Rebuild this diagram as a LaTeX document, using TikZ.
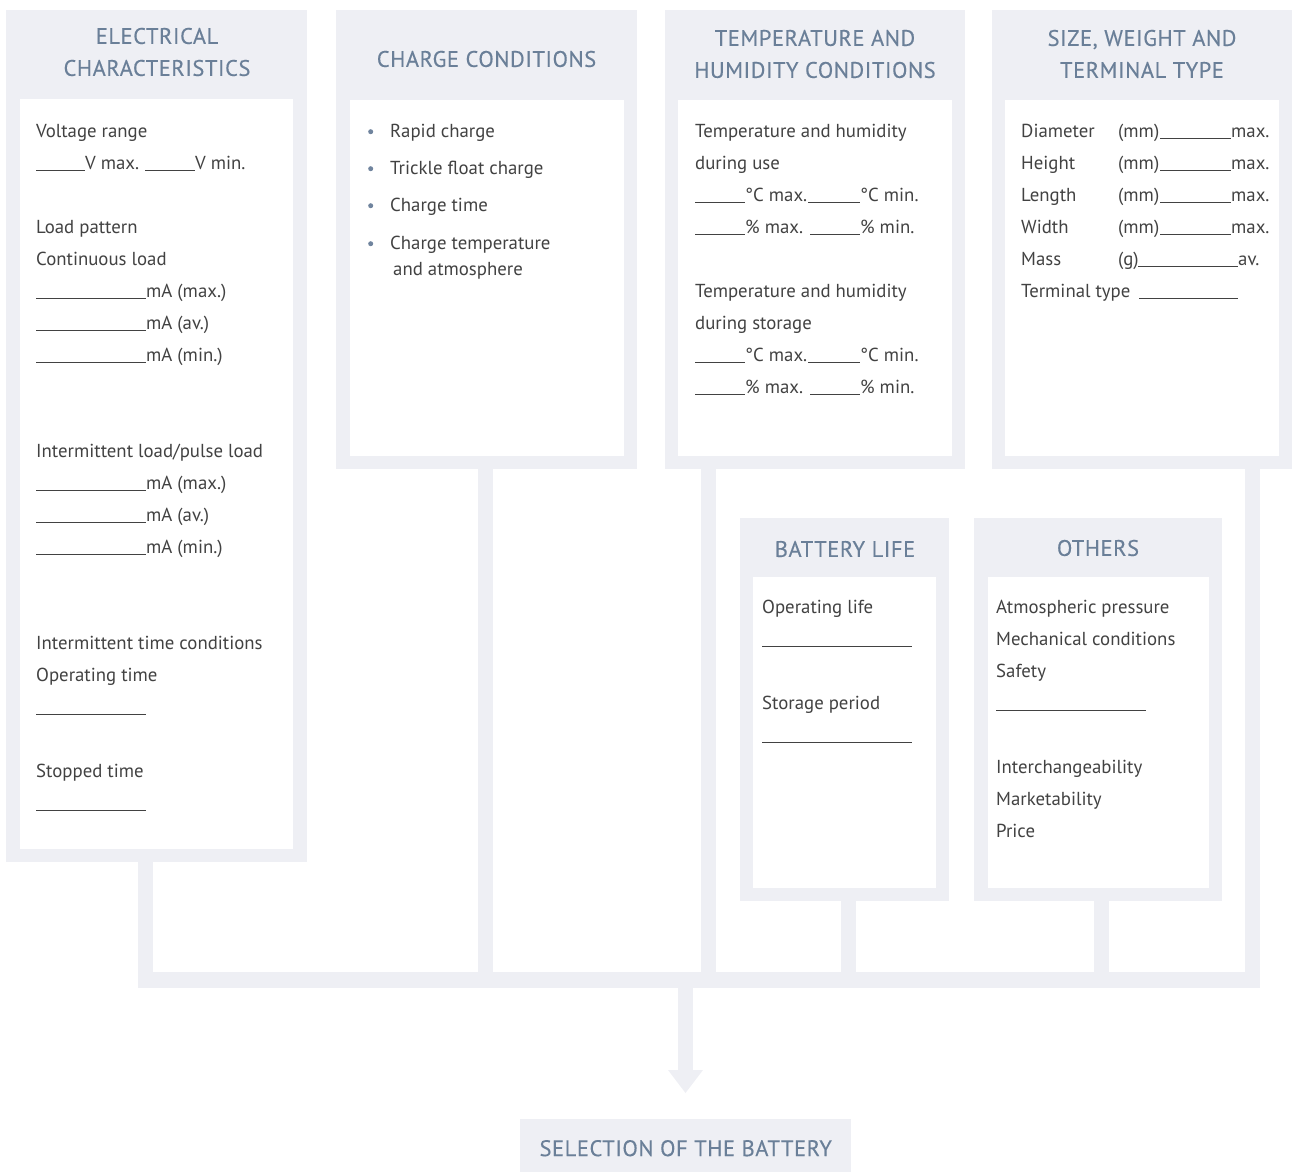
\documentclass[tikz,border=0pt]{standalone}
\usepackage{fontspec}
\setmainfont{PT Sans}
\newfontfamily\headfont[LetterSpace=2.5, FakeBold=0.3]{PT Sans}
\usetikzlibrary{arrows.meta}
\definecolor{panelgray}{RGB}{238,239,244}
\definecolor{headblue}{RGB}{106,127,152}
\definecolor{bodygray}{RGB}{66,66,66}
\definecolor{dotblue}{RGB}{112,132,158}
\newcommand{\blank}[1]{\rule[-2pt]{#1}{0.9pt}}
\tikzset{
    panel/.style={fill=panelgray, inner sep=0pt, anchor=north west},
    sheet/.style={fill=white, inner sep=0pt, anchor=north west},
    heading/.style={text=headblue, font=\headfont\fontsize{22.5}{32}\selectfont, align=center, inner sep=0pt},
    entry/.style={text=bodygray, font=\fontsize{18.8}{22}\selectfont, anchor=base west, inner sep=0pt},
    dot/.style={circle, fill=dotblue, inner sep=0pt, minimum size=5pt},
    link/.style={draw=panelgray, line width=15.5pt},
}

\begin{document}
\begin{tikzpicture}[x=1pt, y=-1pt]
		\useasboundingbox (0,0) rectangle (1292,1171);
		% panels
		\node[panel, minimum width=301pt, minimum height=852pt] (elec) at (6,10) {};
		\node[panel, minimum width=301pt, minimum height=459pt] (charge) at (336,10) {};
		\node[panel, minimum width=300pt, minimum height=459pt] (climate) at (665,10) {};
		\node[panel, minimum width=300pt, minimum height=459pt] (size) at (992,10) {};
		\node[panel, minimum width=209pt, minimum height=383pt] (life) at (740,518) {};
		\node[panel, minimum width=248pt, minimum height=383pt] (others) at (974,518) {};
		\node[sheet, minimum width=273pt, minimum height=750pt] (elec-sheet) at (20,99) {};
		\node[sheet, minimum width=274pt, minimum height=356pt] (charge-sheet) at (350,100) {};
		\node[sheet, minimum width=274pt, minimum height=356pt] (climate-sheet) at (678,100) {};
		\node[sheet, minimum width=274pt, minimum height=356pt] (size-sheet) at (1005,100) {};
		\node[sheet, minimum width=183pt, minimum height=311pt] (life-sheet) at (753,577) {};
		\node[sheet, minimum width=221pt, minimum height=311pt] (others-sheet) at (988,577) {};
		\node[panel, heading, anchor=north west, minimum width=331pt, minimum height=58pt] (select) at (520,1119) {SELECTION OF THE BATTERY};
		% titles
		\node[heading] (elec-title) at (157,52) {ELECTRICAL\\CHARACTERISTICS};
		\node[heading] (charge-title) at (486.5,59) {CHARGE CONDITIONS};
		\node[heading] (climate-title) at (815,54) {TEMPERATURE AND\\HUMIDITY CONDITIONS};
		\node[heading] (size-title) at (1142,54) {SIZE, WEIGHT AND\\TERMINAL TYPE};
		\node[heading] (life-title) at (845,549) {BATTERY LIFE};
		\node[heading] (others-title) at (1098,548) {OTHERS};
		% connectors
		\coordinate (bus-west) at (145.5,980);
		\coordinate (bus-east) at (1252.5,980);
		\coordinate (tap-charge) at (485.5,980);
		\coordinate (tap-climate) at (708.5,980);
		\coordinate (tap-life) at (848.5,980);
		\coordinate (tap-others) at (1101.5,980);
		\coordinate (tap-select) at (685.5,980);
		\draw[link] (elec.south -| bus-west) -- (bus-west) -- (bus-east) -- (size.south -| bus-east);
		\foreach \from/\tap in {charge/tap-charge, climate/tap-climate, life/tap-life, others/tap-others}{
			\draw[link] (\from.south -| \tap) -- (\tap);
		}
		\draw[link, -{Triangle[width=35pt, length=23pt, line width=0pt]}, shorten >=26pt] (tap-select) -- (tap-select |- select.north);
		% electrical characteristics
		\foreach \y/\txt [count=\i] in {137/Voltage range, 169/{\blank{49pt}\makebox[60pt][l]{V max.}\blank{50pt}V min.},
			233/Load pattern, 265/Continuous load, 297/{\blank{110pt}mA (max.)}, 329/{\blank{110pt}mA (av.)}, 361/{\blank{110pt}mA (min.)},
			457/{Intermittent load/pulse load}, 489/{\blank{110pt}mA (max.)}, 521/{\blank{110pt}mA (av.)}, 553/{\blank{110pt}mA (min.)},
			649/Intermittent time conditions, 681/Operating time, 713/{\blank{110pt}}, 777/Stopped time, 809/{\blank{110pt}}}{
			\node[entry] (elec-line-\i) at (36,\y) {\txt};
		}
		% charge conditions
		\foreach \y/\txt [count=\i] in {137/Rapid charge, 174/Trickle float charge, 211/Charge time, 249/Charge temperature}{
			\node[dot] (charge-dot-\i) at (370.7,\y-5.3) {};
			\node[entry] (charge-line-\i) at (390,\y) {\txt};
		}
		\node[entry] (charge-line-5) at (393,275) {and atmosphere};
		% temperature and humidity
		\foreach \y/\txt [count=\i] in {137/Temperature and humidity, 169/during use,
			201/{\blank{50pt}\makebox[63pt][l]{°C max.}\blank{52pt}°C min.}, 233/{\blank{50pt}\makebox[65pt][l]{\% max.}\blank{50pt}\% min.},
			297/Temperature and humidity, 329/during storage,
			361/{\blank{50pt}\makebox[63pt][l]{°C max.}\blank{52pt}°C min.}, 393/{\blank{50pt}\makebox[65pt][l]{\% max.}\blank{50pt}\% min.}}{
			\node[entry] (climate-line-\i) at (695,\y) {\txt};
		}
		% size, weight and terminal type
		\foreach \y/\txt [count=\i] in {137/Diameter, 169/Height, 201/Length, 233/Width}{
			\node[entry] (size-line-\i) at (1021,\y) {\makebox[97pt][l]{\txt}\makebox[42pt][l]{(mm)}\blank{71pt}max.};
		}
		\node[entry] (size-line-5) at (1021,265) {\makebox[97pt][l]{Mass}\makebox[20pt][l]{(g)}\blank{100pt}av.};
		\node[entry] (size-line-6) at (1021,297) {\makebox[118pt][l]{Terminal type}\blank{99pt}};
		% battery life
		\foreach \y/\txt [count=\i] in {613/Operating life, 645/{\blank{150pt}}, 709/Storage period, 741/{\blank{150pt}}}{
			\node[entry] (life-line-\i) at (762,\y) {\txt};
		}
		% others
		\foreach \y/\txt [count=\i] in {613/Atmospheric pressure, 645/Mechanical conditions, 677/Safety, 709/{\blank{150pt}},
			773/Interchangeability, 805/Marketability, 837/Price}{
			\node[entry] (others-line-\i) at (996,\y) {\txt};
		}
	\end{tikzpicture}
\end{document}
